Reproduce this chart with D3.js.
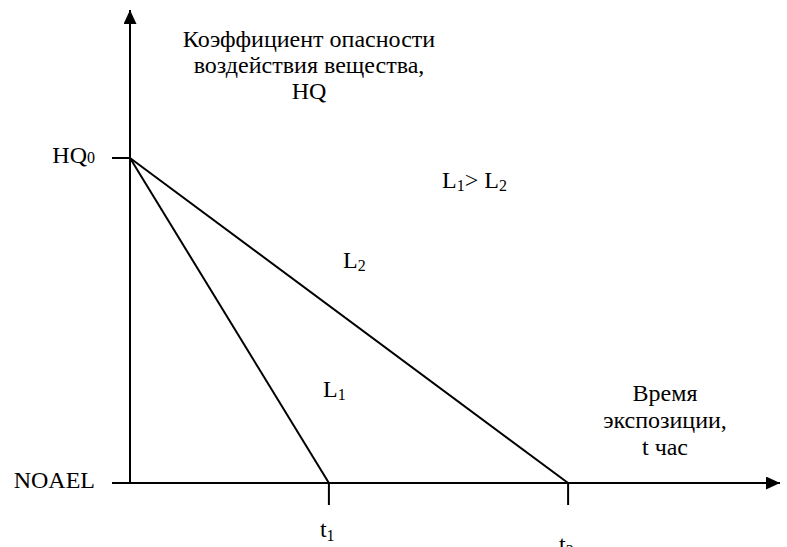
<!DOCTYPE html>
<html>
<head>
<meta charset="utf-8">
<script src="https://cdn.jsdelivr.net/npm/d3@7"></script>
<style>
  body { margin: 0; background: #fff; }
</style>
</head>
<body>
<div id="chart"></div>
<script>
// data: exposure times (t), hazard quotient levels
const timeTicks = [
  { name: "t", sub: "1", value: 3.06 },
  { name: "t", sub: "2", value: 6.74 }
];
const levelTicks = [
  { name: "HQ", sub: "0", value: 1 },
  { name: "NOAEL", sub: "", value: 0 }
];
// each line: from (0, HQ0) down to (t, NOAEL)
const lines = [
  { name: "L1", t0: 0, hq0: 1, t1: 3.06, hq1: 0 },
  { name: "L2", t0: 0, hq0: 1, t1: 6.74, hq1: 0 }
];

const W = 787, H = 547;
const FONT = "'Liberation Serif', 'Times New Roman', 'DejaVu Serif', serif";
const FS = "24px", SUB = "16px";
const svg = d3.select("#chart").append("svg")
  .attr("width", W).attr("height", H)
  .attr("font-family", FONT);

const x = d3.scaleLinear().domain([0, 10]).range([130, 780]);
const y = d3.scaleLinear().domain([0, 1]).range([483, 158]);

// arrow markers
svg.append("defs").append("marker")
  .attr("id", "arrow")
  .attr("viewBox", "0 0 14 13")
  .attr("refX", 14).attr("refY", 6.5)
  .attr("markerWidth", 14).attr("markerHeight", 13)
  .attr("markerUnits", "userSpaceOnUse")
  .attr("orient", "auto")
  .append("path").attr("d", "M0,0L14,6.5L0,13Z").attr("fill", "#000");

// axes
svg.append("line")
  .attr("x1", x(0)).attr("y1", y(0)).attr("x2", x(0)).attr("y2", 10)
  .attr("stroke", "#000").attr("stroke-width", 2)
  .attr("marker-end", "url(#arrow)");
svg.append("line")
  .attr("x1", x(0)).attr("y1", y(0)).attr("x2", x(10)).attr("y2", y(0))
  .attr("stroke", "#000").attr("stroke-width", 2)
  .attr("marker-end", "url(#arrow)");

// y ticks
levelTicks.forEach(d => {
  svg.append("line")
    .attr("x1", x(0) - 18).attr("x2", x(0))
    .attr("y1", y(d.value)).attr("y2", y(d.value))
    .attr("stroke", "#000").attr("stroke-width", 2);
  const t = svg.append("text")
    .attr("x", x(0) - 35).attr("y", y(d.value) + 5)
    .attr("text-anchor", "end")
    .attr("font-size", FS);
  t.append("tspan").text(d.name);
  if (d.sub) t.append("tspan").attr("font-size", SUB).text(d.sub);
});

// x ticks
timeTicks.forEach((d, i) => {
  svg.append("line")
    .attr("x1", x(d.value)).attr("x2", x(d.value))
    .attr("y1", y(0)).attr("y2", y(0) + 22)
    .attr("stroke", "#000").attr("stroke-width", 2);
  const t = svg.append("text")
    .attr("x", x(d.value) - 9).attr("y", i === 0 ? 537 : 552)
    .attr("font-size", FS);
  t.append("tspan").text(d.name);
  t.append("tspan").attr("font-size", SUB).attr("dy", 4).text(d.sub);
});

// decay lines
svg.selectAll("line.decay")
  .data(lines)
  .enter().append("line")
  .attr("class", "decay")
  .attr("x1", d => x(d.t0)).attr("y1", d => y(d.hq0))
  .attr("x2", d => x(d.t1)).attr("y2", d => y(d.hq1))
  .attr("stroke", "#000").attr("stroke-width", 2);

// line labels
function subLabel(px, py, parts) {
  const t = svg.append("text").attr("x", px).attr("y", py).attr("font-size", FS);
  parts.forEach(p => {
    t.append("tspan")
      .attr("font-size", p.sub ? SUB : FS)
      .attr("dy", p.dy || 0)
      .text(p.s);
  });
}
subLabel(323, 397, [{ s: "L" }, { s: "1", sub: true, dy: 3 }]);
subLabel(343, 268, [{ s: "L" }, { s: "2", sub: true, dy: 3 }]);
subLabel(442, 188, [{ s: "L" }, { s: "1", sub: true, dy: 3 }, { s: "> L", dy: -3 }, { s: "2", sub: true, dy: 3 }]);

// axis titles
const yTitle = ["Коэффициент опасности", "воздействия вещества,", "HQ"];
svg.append("text")
  .attr("font-size", FS).attr("text-anchor", "middle")
  .selectAll("tspan").data(yTitle).enter().append("tspan")
  .attr("x", 309).attr("y", (d, i) => 47 + i * 26)
  .text(d => d);

const xTitle = ["Время", "экспозиции,", "t час"];
svg.append("text")
  .attr("font-size", FS).attr("text-anchor", "middle")
  .selectAll("tspan").data(xTitle).enter().append("tspan")
  .attr("x", 665).attr("y", (d, i) => 401 + i * 27)
  .text(d => d);
</script>
</body>
</html>
